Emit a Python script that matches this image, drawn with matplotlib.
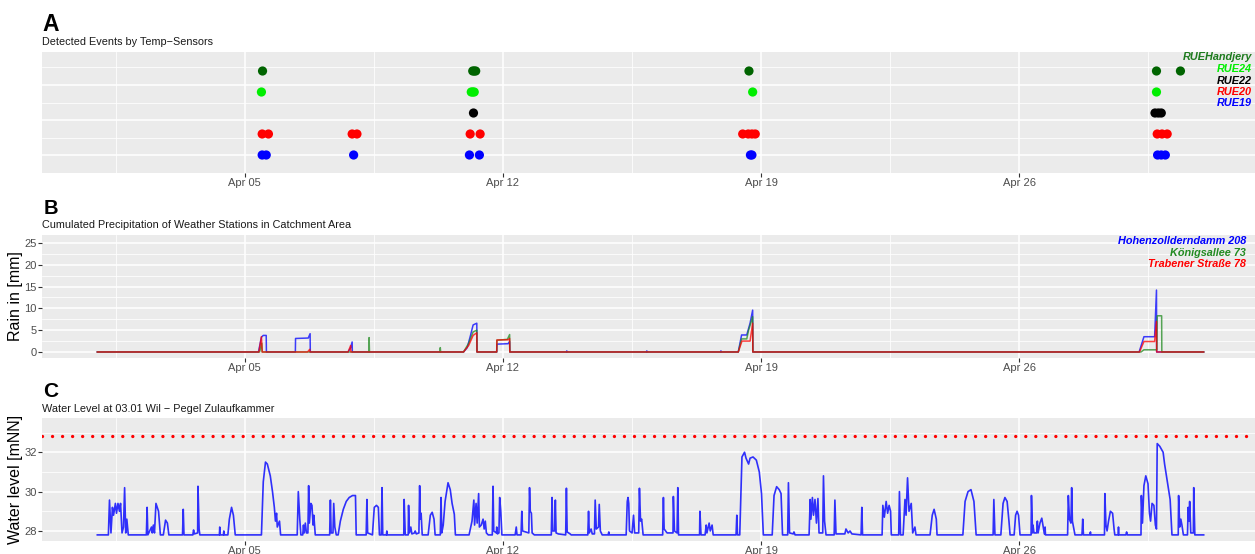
import matplotlib
matplotlib.use('Agg')
import matplotlib.pyplot as plt

plt.rcParams['font.family'] = ['Liberation Sans', 'DejaVu Sans']

# ---------------- data ----------------
tick_days = [5, 12, 19, 26]
tick_labels = ['Apr 05', 'Apr 12', 'Apr 19', 'Apr 26']
minor_days = [1.5, 8.5, 15.5, 22.5, 29.5]

# Panel A: detected events (day of April)
sensors = ['RUE19', 'RUE20', 'RUE22', 'RUE24', 'RUEHandjery']
sensor_colors = ['#0000FF', '#FF0000', '#000000', '#00EE00', '#006400']
legend_text_colors = ['#0000FF', '#FF0000', '#000000', '#00EE00', '#1E7B1E']
ev_RUE19 = [5.47, 5.58, 7.95, 11.09, 11.36, 18.71, 18.75, 29.75, 29.85, 29.96]
ev_RUE20 = [5.47, 5.64, 7.91, 8.04, 11.11, 11.38, 18.50, 18.65, 18.75, 18.84, 29.74, 29.87, 30.01]
ev_RUE22 = [11.20, 29.68, 29.77, 29.85]
ev_RUE24 = [5.45, 11.14, 11.18, 11.22, 18.77, 29.72]
ev_RUEHandjery = [5.48, 11.18, 11.22, 11.26, 18.67, 29.72, 30.37]

# Panel B: cumulated precipitation (day, mm)
rain_names = ['Hohenzollderndamm 208', 'Königsallee 73', 'Trabener Straße 78']
rain_colors = ['#0000FF', '#228B22', '#FF0000']
rain_hohenzollern = [
    (1.0, 0), (5.37, 0), (5.45, 3.4), (5.50, 3.8), (5.58, 3.8), (5.585, 0),
    (6.37, 0), (6.375, 3.1), (6.72, 3.2), (6.77, 4.2), (6.775, 0),
    (7.80, 0), (7.87, 1.0), (7.91, 2.3), (7.915, 0),
    (10.93, 0), (11.03, 1.0), (11.11, 3.5), (11.19, 6.2), (11.29, 6.6), (11.295, 0),
    (11.83, 0), (11.835, 1.8), (12.14, 1.9), (12.18, 2.4), (12.185, 0),
    (13.72, 0), (13.73, 0.25), (13.74, 0), (15.89, 0), (15.90, 0.25), (15.91, 0),
    (17.90, 0), (17.91, 0.25), (17.92, 0),
    (18.38, 0), (18.47, 3.9), (18.61, 3.9), (18.70, 6.6), (18.77, 9.6), (18.775, 0),
    (29.25, 0), (29.38, 3.5), (29.67, 3.5), (29.72, 14.2), (29.725, 0), (31.0, 0)]
rain_koenigsallee = [
    (1.0, 0), (5.40, 0), (5.46, 2.0), (5.47, 0), (8.36, 0), (8.37, 3.3), (8.38, 0),
    (10.29, 0), (10.30, 1.0), (10.31, 0),
    (10.93, 0), (11.07, 2.0), (11.19, 4.6), (11.29, 5.0), (11.295, 0),
    (11.83, 0), (11.835, 2.7), (12.12, 2.9), (12.18, 4.0), (12.185, 0),
    (18.38, 0), (18.47, 3.0), (18.61, 3.0), (18.66, 5.0), (18.77, 8.1), (18.775, 0),
    (29.30, 0), (29.38, 0.5), (29.73, 0.5), (29.74, 8.3), (29.86, 8.3), (29.865, 0), (31.0, 0)]
rain_trabener = [
    (1.0, 0), (5.38, 0), (5.45, 3.5), (5.47, 0), (6.70, 0), (6.76, 0.6), (6.765, 0),
    (7.80, 0), (7.87, 1.5), (7.875, 0),
    (10.93, 0), (11.07, 1.5), (11.19, 3.8), (11.29, 4.4), (11.295, 0),
    (11.83, 0), (11.835, 2.75), (12.14, 2.8), (12.18, 3.1), (12.185, 0),
    (18.38, 0), (18.48, 2.5), (18.70, 2.5), (18.77, 6.6), (18.775, 0),
    (29.26, 0), (29.38, 2.4), (29.67, 2.4), (29.72, 7.0), (29.725, 0), (31.0, 0)]
rain_ticks = [0, 5, 10, 15, 20, 25]

# Panel C: water level (day, mNN)
water_level = [
    (1.00, 27.8), (1.30, 27.8), (1.33, 29.57), (1.37, 27.9), (1.41, 29.2), (1.44, 28.8),
    (1.49, 29.4), (1.52, 28.9), (1.56, 29.4), (1.60, 29.0), (1.63, 29.4), (1.67, 27.9),
    (1.71, 28.2), (1.74, 30.2), (1.77, 27.9), (1.80, 28.6), (1.84, 27.8),
    (2.33, 27.8), (2.35, 29.2), (2.37, 27.8), (2.47, 28.2), (2.49, 27.9), (2.52, 28.3),
    (2.55, 27.9), (2.59, 29.4), (2.66, 29.0), (2.71, 27.8), (2.79, 27.8), (2.85, 28.55),
    (2.90, 28.4), (2.94, 27.8), (3.31, 27.8), (3.33, 29.1), (3.35, 27.8), (3.59, 27.8),
    (3.61, 28.05), (3.63, 27.85), (3.72, 27.9), (3.73, 30.27), (3.76, 28.1), (3.78, 27.8),
    (4.31, 27.8), (4.32, 28.2), (4.33, 27.8), (4.42, 27.8), (4.43, 28.0), (4.44, 27.8),
    (4.54, 27.8), (4.58, 28.6), (4.64, 29.2), (4.69, 28.8), (4.74, 27.8),
    (5.45, 27.8), (5.50, 30.5), (5.56, 31.5), (5.61, 31.4), (5.69, 30.8), (5.75, 30.0),
    (5.80, 29.2), (5.83, 28.5), (5.86, 28.9), (5.88, 28.2), (5.94, 28.5), (5.97, 27.8),
    (6.42, 27.8), (6.45, 30.0), (6.49, 28.6), (6.52, 27.8), (6.57, 27.8), (6.59, 28.3),
    (6.61, 27.9), (6.64, 28.4), (6.67, 27.9), (6.71, 27.9), (6.73, 30.3), (6.75, 28.4),
    (6.79, 29.4), (6.82, 29.3), (6.85, 28.3), (6.87, 28.8), (6.91, 27.8),
    (7.30, 27.8), (7.32, 29.57), (7.34, 27.9), (7.39, 27.9), (7.41, 29.4), (7.44, 28.2),
    (7.48, 27.8), (7.53, 27.8), (7.59, 28.5), (7.67, 29.1), (7.75, 29.5), (7.83, 29.7),
    (7.92, 29.8), (8.00, 29.8), (8.02, 27.8), (8.29, 27.8), (8.31, 29.6), (8.33, 27.9),
    (8.46, 27.8), (8.51, 29.2), (8.57, 29.3), (8.62, 29.2), (8.65, 27.8), (8.70, 27.8),
    (8.72, 30.2), (8.74, 27.8), (8.84, 27.8), (8.85, 28.0), (8.86, 27.8),
    (9.31, 27.8), (9.32, 29.6), (9.35, 27.8), (9.43, 27.8), (9.44, 29.3), (9.46, 27.9),
    (9.50, 28.2), (9.53, 27.85), (9.60, 27.9), (9.62, 28.0), (9.65, 27.85), (9.72, 27.9),
    (9.74, 30.3), (9.76, 28.6), (9.78, 28.9), (9.81, 27.8), (9.97, 27.8), (10.03, 28.8),
    (10.08, 28.95), (10.13, 28.6), (10.16, 27.8), (10.30, 27.8), (10.32, 29.7), (10.34, 27.9),
    (10.38, 28.3), (10.43, 29.5), (10.51, 30.45), (10.57, 30.1), (10.62, 29.4), (10.68, 28.85),
    (10.71, 27.8), (11.08, 27.8), (11.16, 28.5), (11.21, 29.57), (11.23, 28.3), (11.27, 29.4),
    (11.30, 28.4), (11.34, 29.9), (11.36, 28.2), (11.41, 28.3), (11.46, 28.6), (11.49, 28.1),
    (11.52, 28.5), (11.55, 27.9), (11.60, 27.8), (11.71, 27.8), (11.73, 30.27), (11.75, 28.0),
    (11.82, 27.9), (11.83, 28.2), (11.85, 27.85), (11.89, 27.9), (11.91, 29.7), (11.94, 29.0),
    (11.97, 27.8), (12.33, 27.8), (12.36, 28.2), (12.38, 27.8), (12.49, 27.8), (12.51, 29.0),
    (12.53, 28.0), (12.70, 27.9), (12.72, 30.2), (12.74, 29.0), (12.77, 28.9), (12.79, 27.9),
    (12.85, 27.8), (13.31, 27.8), (13.33, 29.7), (13.35, 28.0), (13.40, 28.0), (13.42, 29.57),
    (13.44, 27.9), (13.50, 27.85), (13.70, 27.8), (13.72, 30.17), (13.74, 27.95), (13.82, 27.85),
    (13.85, 27.8), (14.30, 27.8), (14.32, 29.0), (14.34, 27.9), (14.39, 28.1), (14.42, 27.85),
    (14.48, 27.85), (14.50, 29.57), (14.53, 28.1), (14.59, 28.2), (14.61, 29.35), (14.64, 28.0),
    (14.69, 27.8), (14.85, 27.8), (14.87, 27.95), (14.88, 27.8),
    (15.34, 27.8), (15.37, 29.5), (15.39, 29.7), (15.41, 29.4), (15.43, 28.0), (15.50, 27.9),
    (15.54, 28.8), (15.57, 27.9), (15.68, 27.9), (15.70, 30.17), (15.73, 28.5), (15.76, 28.6),
    (15.80, 27.8), (16.33, 27.8), (16.35, 29.7), (16.37, 28.1), (16.41, 28.0), (16.45, 27.9),
    (16.61, 27.9), (16.62, 29.75), (16.65, 28.0), (16.72, 27.9), (16.74, 30.2), (16.76, 27.8),
    (17.33, 27.8), (17.34, 29.0), (17.37, 27.8), (17.48, 27.8), (17.51, 28.3), (17.53, 27.9),
    (17.59, 28.4), (17.62, 28.0), (17.67, 28.3), (17.70, 27.8),
    (18.32, 27.8), (18.34, 28.8), (18.36, 27.8), (18.42, 27.8), (18.48, 31.76), (18.55, 32.0),
    (18.59, 31.7), (18.66, 31.4), (18.70, 31.7), (18.78, 31.76), (18.87, 31.6), (18.95, 31.0),
    (19.01, 29.9), (19.06, 27.8), (19.30, 27.8), (19.35, 29.8), (19.42, 30.25), (19.49, 30.1),
    (19.54, 29.9), (19.58, 27.8), (19.72, 27.8), (19.74, 30.45), (19.77, 27.9), (19.87, 27.85),
    (19.89, 27.95), (19.92, 27.8), (20.30, 27.8), (20.33, 29.6), (20.35, 28.6), (20.39, 29.7),
    (20.42, 28.8), (20.46, 29.6), (20.50, 28.4), (20.54, 29.65), (20.57, 27.9), (20.67, 27.9),
    (20.69, 30.8), (20.72, 28.5), (20.76, 27.8), (20.98, 27.8), (21.00, 29.57), (21.03, 27.85),
    (21.27, 27.85), (21.30, 28.1), (21.36, 27.9), (21.41, 28.0), (21.46, 27.85), (21.71, 27.8),
    (21.73, 29.2), (21.75, 27.8), (22.28, 27.8), (22.30, 29.3), (22.34, 28.7), (22.39, 29.5),
    (22.43, 28.9), (22.47, 29.3), (22.51, 29.0), (22.53, 27.8), (22.73, 27.8), (22.75, 30.0),
    (22.78, 27.8), (22.85, 27.8), (22.90, 29.6), (22.93, 28.8), (22.97, 30.7), (23.01, 29.0),
    (23.07, 29.4), (23.11, 27.9), (23.17, 28.2), (23.20, 27.8), (23.58, 27.8), (23.64, 28.8),
    (23.69, 29.1), (23.75, 28.6), (23.77, 27.8), (24.47, 27.8), (24.53, 29.5), (24.61, 30.0),
    (24.69, 30.1), (24.77, 29.5), (24.83, 27.8), (25.29, 27.8), (25.31, 29.6), (25.34, 27.8),
    (25.50, 27.8), (25.56, 29.4), (25.61, 29.7), (25.67, 29.5), (25.72, 28.5), (25.75, 27.8),
    (25.86, 27.8), (25.90, 28.8), (25.94, 29.0), (25.98, 28.8), (26.02, 27.8),
    (26.32, 27.8), (26.33, 29.8), (26.36, 27.9), (26.37, 28.3), (26.40, 27.9), (26.47, 27.9),
    (26.49, 28.5), (26.51, 27.9), (26.56, 28.4), (26.61, 28.65), (26.64, 28.3), (26.68, 27.85),
    (26.70, 28.2), (26.71, 27.8), (27.31, 27.8), (27.33, 29.8), (27.36, 28.6), (27.40, 28.4),
    (27.42, 30.2), (27.44, 28.5), (27.48, 28.1), (27.51, 27.8), (27.70, 27.8), (27.72, 28.6),
    (27.74, 27.8), (27.91, 27.8), (27.93, 27.95), (27.94, 27.8), (28.31, 27.8), (28.32, 29.9),
    (28.35, 28.3), (28.38, 28.0), (28.42, 28.5), (28.47, 29.0), (28.53, 28.9), (28.57, 28.1),
    (28.59, 27.8), (28.68, 27.8), (28.69, 28.2), (28.70, 27.8), (28.89, 27.8), (28.91, 27.95),
    (28.93, 27.8), (29.30, 27.8), (29.31, 29.8), (29.34, 28.4), (29.38, 30.3), (29.43, 30.8),
    (29.49, 30.4), (29.53, 28.9), (29.56, 28.5), (29.60, 29.4), (29.65, 29.3), (29.69, 28.3),
    (29.72, 28.1), (29.74, 32.44), (29.81, 32.3), (29.90, 32.0), (29.94, 31.4), (29.99, 30.8),
    (30.04, 30.2), (30.09, 29.6), (30.14, 27.8), (30.31, 27.8), (30.32, 29.8), (30.35, 28.2),
    (30.38, 28.6), (30.41, 28.3), (30.45, 27.8), (30.56, 27.8), (30.58, 29.2), (30.60, 28.5),
    (30.62, 29.5), (30.65, 27.9), (30.72, 27.9), (30.73, 30.2), (30.76, 27.8), (31.00, 27.8)]
level_threshold = 32.83
level_ticks = [28, 30, 32]

# ---------------- figure ----------------
W, H = 1255, 554
fig = plt.figure(figsize=(W / 100, H / 100), dpi=100)
BG = '#EBEBEB'
TXT = '#4D4D4D'


def rect(x0, y0, x1, y1):
    return [x0 / W, 1 - y1 / H, (x1 - x0) / W, (y1 - y0) / H]


def style(ax):
    ax.set_facecolor(BG)
    for s in ax.spines.values():
        s.set_visible(False)
    ax.set_axisbelow(True)
    ax.set_xlim(-0.5, 32.5)
    ax.set_xticks(tick_days)
    ax.set_xticklabels(tick_labels)
    ax.set_xticks(minor_days, minor=True)
    ax.grid(which='major', color='white', lw=1.1)
    ax.grid(which='minor', color='white', lw=0.55)
    ax.tick_params(which='major', length=3.0, width=0.8, color='#333333',
                   labelcolor=TXT, labelsize=8, pad=0.8)
    ax.tick_params(which='minor', length=0)


# Panel A
axA = fig.add_axes(rect(42, 52, 1259, 173))
style(axA)
events = [ev_RUE19, ev_RUE20, ev_RUE22, ev_RUE24, ev_RUEHandjery]
for i, (ev, c) in enumerate(zip(events, sensor_colors)):
    axA.scatter(ev, [i + 1] * len(ev), s=44, color=c, edgecolors='none', zorder=3)
axA.set_ylim(0.143, 5.905)
axA.set_yticks([1.0, 2.667, 4.333])
axA.set_yticks([1.833, 3.5, 5.167], minor=True)
axA.tick_params(axis='y', which='both', length=0, labelleft=False)
leg_y = [103, 92, 80.5, 69, 57]
for name, c, yy in zip(sensors, legend_text_colors, leg_y):
    fig.text(1252 / W, 1 - yy / H, name, color=c, fontsize=7.8, fontweight='bold',
             fontstyle='italic', ha='right', va='center')

# Panel B
axB = fig.add_axes(rect(42, 235, 1259, 358))
style(axB)
for series, c in zip([rain_hohenzollern, rain_koenigsallee, rain_trabener], rain_colors):
    d = [p[0] for p in series]
    v = [p[1] for p in series]
    axB.plot(d, v, color=c, lw=1.1, alpha=0.75, zorder=3)
axB.set_ylim(-1.38, 26.83)
axB.set_yticks(rain_ticks)
axB.set_yticks([2.5, 7.5, 12.5, 17.5, 22.5], minor=True)
axB.set_ylabel('Rain in [mm]', fontsize=11.5, labelpad=1)
for name, c, yy in zip(rain_names, rain_colors, [241.5, 253, 264]):
    fig.text(1246 / W, 1 - yy / H, name, color=c, fontsize=7.8, fontweight='bold',
             fontstyle='italic', ha='right', va='center')

# Panel C
axC = fig.add_axes(rect(42, 418, 1259, 541))
style(axC)
axC.plot([p[0] for p in water_level], [p[1] for p in water_level],
         color='#0000FF', lw=1.2, alpha=0.8, zorder=3)
axC.axhline(level_threshold, color='#FF0000', lw=2.4, ls=(0, (0.01, 3.0)),
            dash_capstyle='round', zorder=3)
axC.set_ylim(27.49, 33.74)
axC.set_yticks(level_ticks)
axC.set_yticks([29, 31, 33], minor=True)
axC.set_ylabel('Water level [mNN]', fontsize=11.5, labelpad=1)

# titles
fig.text(42 / W, 1 - 31 / H, 'A', fontsize=16.5, fontweight='bold', va='baseline')
fig.text(42 / W, 1 - 45 / H, 'Detected Events by Temp\u2212Sensors', fontsize=7.8,
         color='#1A1A1A', va='baseline')
fig.text(44 / W, 1 - 214 / H, 'B', fontsize=14.5, fontweight='bold', va='baseline')
fig.text(42 / W, 1 - 228 / H, 'Cumulated Precipitation of Weather Stations in Catchment Area',
         fontsize=7.8, color='#1A1A1A', va='baseline')
fig.text(43 / W, 1 - 397 / H, 'C', fontsize=15, fontweight='bold', va='baseline')
fig.text(42 / W, 1 - 411.5 / H, 'Water Level at 03.01 Wil \u2212 Pegel Zulaufkammer',
         fontsize=7.8, color='#1A1A1A', va='baseline')

fig.savefig('out.png', dpi=100, facecolor='white')
